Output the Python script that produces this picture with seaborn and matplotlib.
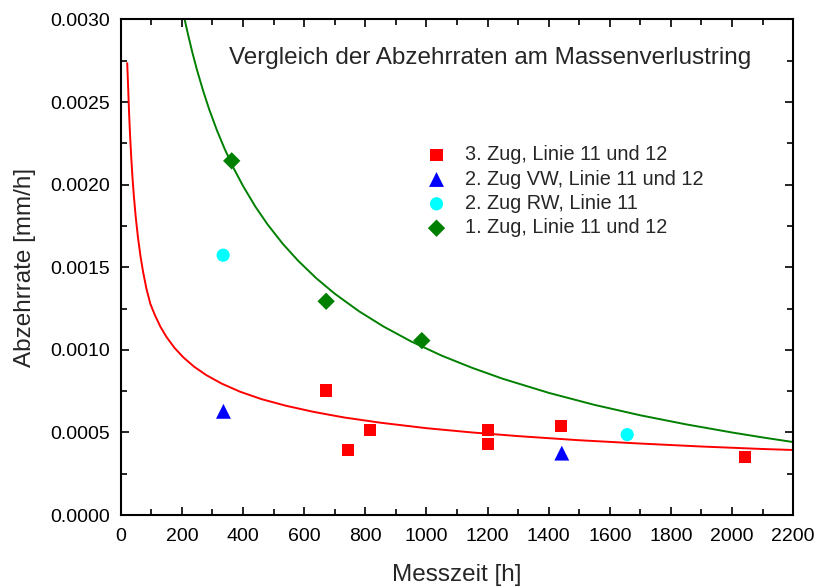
import matplotlib
matplotlib.use("Agg")
import matplotlib.pyplot as plt
import matplotlib.ticker as mticker
import seaborn as sns

# ---- data ----
zug3_x = [670, 743, 815, 1200, 1200, 1441, 2043]
zug3_y = [0.000754, 0.000393, 0.000517, 0.000517, 0.000428, 0.000541, 0.000350]

zug2vw_x = [336, 1443]
zug2vw_y = [0.000628, 0.000375]

zug2rw_x = [335, 1657]
zug2rw_y = [0.001573, 0.000487]

zug1_x = [363, 672, 985]
zug1_y = [0.002144, 0.001294, 0.001056]

# fitted curves
red_fit_x = [21, 24, 27, 30, 34, 38, 43, 49, 56, 64, 73, 84, 97, 112, 130, 150,
             175, 205, 240, 280, 330, 390, 460, 540, 630, 730, 850, 1000, 1150,
             1300, 1500, 1700, 1900, 2100, 2200]
red_fit_y = [0.002740, 0.002595, 0.002443, 0.002316, 0.002173, 0.002052, 0.001927,
             0.001803, 0.001685, 0.001573, 0.001472, 0.001370, 0.001277, 0.001209,
             0.001139, 0.001077, 0.001014, 0.000954, 0.000898, 0.000847, 0.000796,
             0.000747, 0.000702, 0.000662, 0.000625, 0.000591, 0.000559, 0.000526,
             0.000500, 0.000478, 0.000453, 0.000433, 0.000415, 0.000400, 0.000394]

green_fit_x = [209, 220, 235, 250, 270, 290, 315, 340, 370, 400, 440, 480, 530,
               580, 640, 700, 780, 860, 950, 1050, 1150, 1250, 1400, 1550, 1700,
               1850, 2000, 2100, 2200]
green_fit_y = [0.003000, 0.002909, 0.002794, 0.002690, 0.002565, 0.002452, 0.002327,
               0.002216, 0.002097, 0.001992, 0.001868, 0.001760, 0.001642, 0.001540,
               0.001433, 0.001340, 0.001233, 0.001141, 0.001051, 0.000965, 0.000891,
               0.000825, 0.000740, 0.000667, 0.000604, 0.000549, 0.000500, 0.000470,
               0.000442]

labels = ["3. Zug, Linie 11 und 12", "2. Zug VW, Linie 11 und 12",
          "2. Zug RW, Linie 11", "1. Zug, Linie 11 und 12"]
title = "Vergleich der Abzehrraten am Massenverlustring"
x_label = "Messzeit [h]"
y_label = "Abzehrrate [mm/h]"
x_ticks = list(range(0, 2201, 200))
y_ticks = [0.0, 0.0005, 0.0010, 0.0015, 0.0020, 0.0025, 0.0030]

# ---- style ----
sns.set_style("ticks")
plt.rcParams["font.family"] = ["Liberation Sans", "DejaVu Sans"]
plt.rcParams["xtick.direction"] = "in"
plt.rcParams["ytick.direction"] = "in"

fig = plt.figure(figsize=(8.16, 5.88), dpi=100)
ax = fig.add_axes([0.148, 0.124, 0.824, 0.843])

sns.lineplot(x=red_fit_x, y=red_fit_y, ax=ax, color="#ff0000", lw=1.4,
             sort=False, estimator=None, solid_capstyle="butt",
             solid_joinstyle="round")
sns.lineplot(x=green_fit_x, y=green_fit_y, ax=ax, color="#008000", lw=1.4,
             sort=False, estimator=None, solid_capstyle="butt",
             solid_joinstyle="round")

sns.scatterplot(x=zug3_x, y=zug3_y, ax=ax, marker="s", s=75, color="#ff0000",
                edgecolor="none", label=labels[0], zorder=3)
sns.scatterplot(x=zug2vw_x, y=zug2vw_y, ax=ax, marker="^", s=115, color="#0000ff",
                edgecolor="none", label=labels[1], zorder=3)
sns.scatterplot(x=zug2rw_x, y=zug2rw_y, ax=ax, marker="o", s=90, color="#00ffff",
                edgecolor="none", label=labels[2], zorder=3)
sns.scatterplot(x=zug1_x, y=zug1_y, ax=ax, marker="D", s=78, color="#008000",
                edgecolor="none", label=labels[3], zorder=3)

ax.set_xlim(0, 2200)
ax.set_ylim(0, 0.0030)
ax.set_xticks(x_ticks)
ax.set_yticks(y_ticks)
ax.xaxis.set_minor_locator(mticker.MultipleLocator(100))
ax.yaxis.set_minor_locator(mticker.MultipleLocator(0.00025))
ax.yaxis.set_major_formatter(mticker.FormatStrFormatter("%.4f"))
ax.tick_params(which="both", top=True, right=True, direction="in",
               width=1.2, colors="black", labelsize=14)
ax.tick_params(axis="x", which="both", pad=9)
ax.tick_params(axis="y", which="both", pad=8)
ax.tick_params(which="major", length=6)
ax.tick_params(which="minor", length=4)
for sp in ax.spines.values():
    sp.set_visible(True)
    sp.set_linewidth(1.5)
    sp.set_color("black")

ax.set_xlabel(x_label, fontsize=17.5, labelpad=14)
ax.set_ylabel(y_label, fontsize=17.5, labelpad=10)

ax.text(0.549, 0.923, title, transform=ax.transAxes, ha="center", va="center",
        fontsize=17.5)

leg = ax.legend(loc="upper left", bbox_to_anchor=(0.443, 0.762), frameon=False,
                fontsize=14.3, labelspacing=0.27, handletextpad=0.95,
                borderaxespad=0, handlelength=1.0)

fig.savefig("out.png", dpi=100)
